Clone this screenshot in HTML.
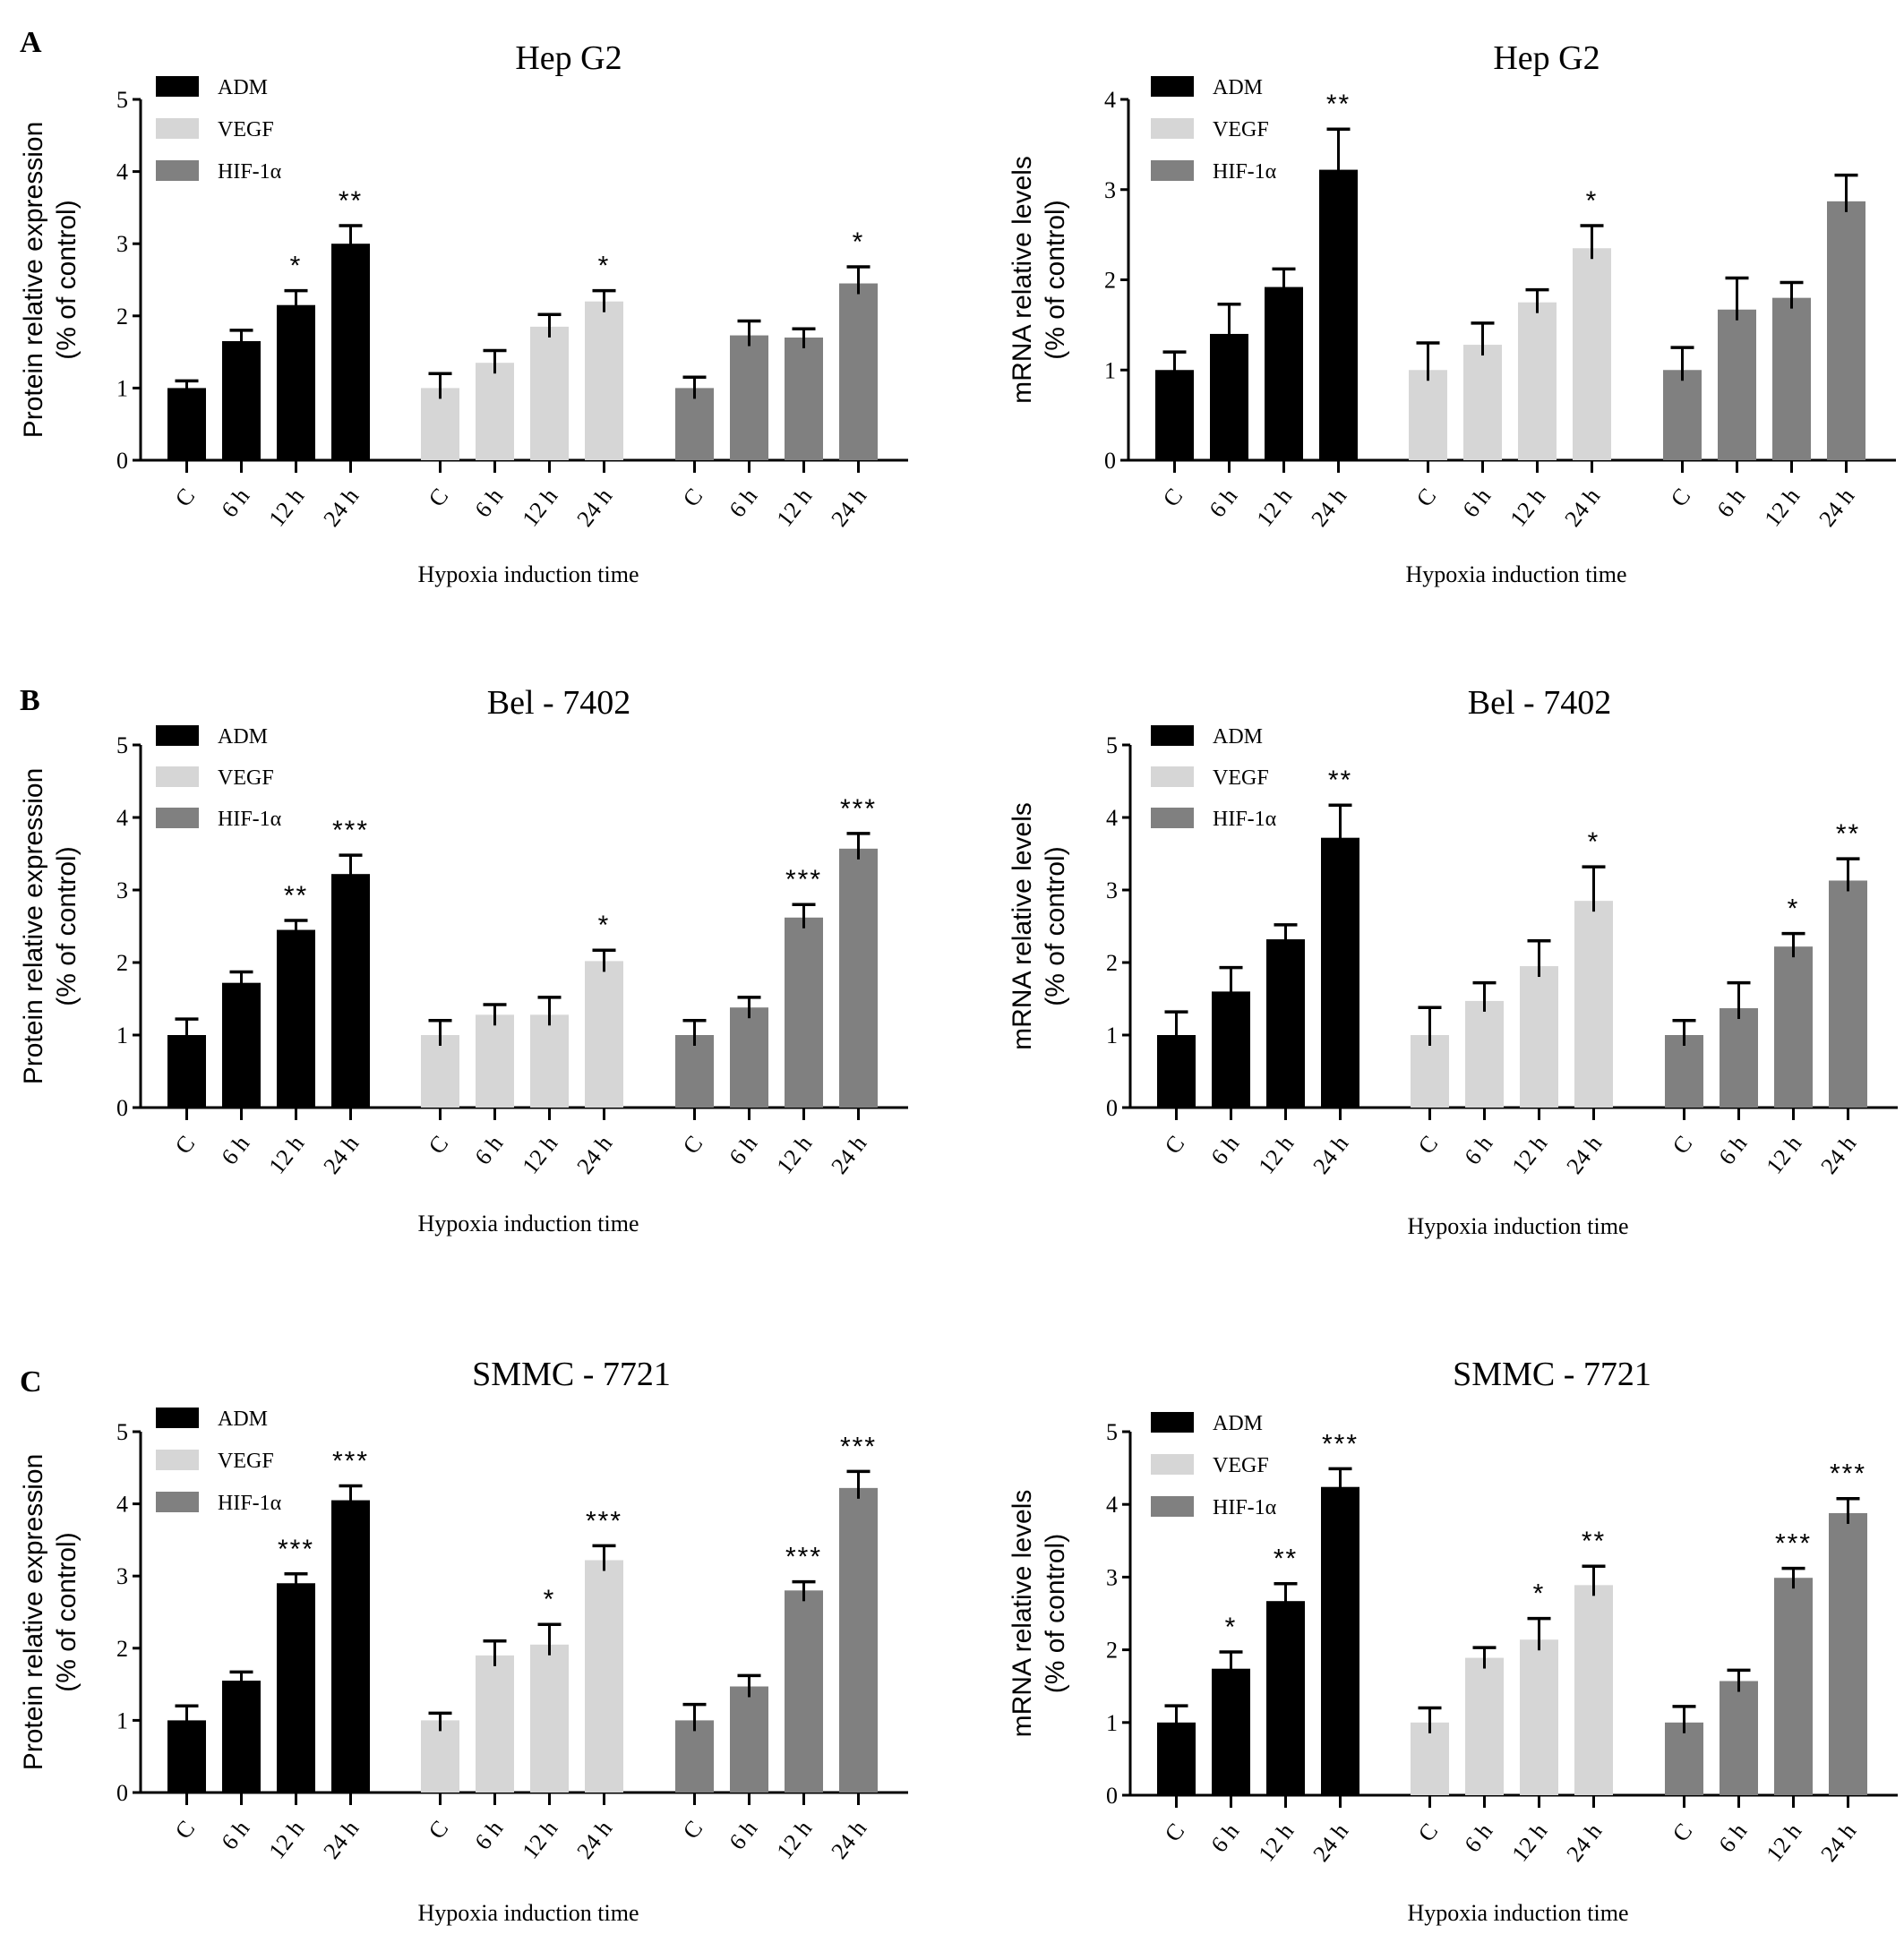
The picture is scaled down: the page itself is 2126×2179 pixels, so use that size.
<!DOCTYPE html>
<html><head><meta charset="utf-8"><style>
html,body{margin:0;padding:0;background:#fff;}
svg{display:block;}
text{font-family:"Liberation Serif",serif;fill:#000;}
</style></head><body>
<svg id="fig" width="2126" height="2179" viewBox="0 0 2126 2179" xmlns="http://www.w3.org/2000/svg"></svg>
<script>
const categories = ["C","6 h","12 h","24 h"];
const seriesNames = ["ADM","VEGF","HIF-1\u03b1"];
// values per panel: [ADM, VEGF, HIF]
const aLeftVals = [[1.0,1.65,2.15,3.0],[1.0,1.35,1.85,2.2],[1.0,1.73,1.7,2.45]];
const aLeftErr  = [[1.1,1.8,2.35,3.25],[1.2,1.52,2.02,2.35],[1.15,1.93,1.82,2.68]];
const aLeftSig  = [["","","*","**"],["","","","*"],["","","","*"]];
const aRightVals = [[1,1.4,1.92,3.22],[1,1.28,1.75,2.35],[1,1.67,1.8,2.87]];
const aRightErr  = [[1.2,1.73,2.12,3.67],[1.3,1.52,1.89,2.6],[1.25,2.02,1.97,3.16]];
const aRightSig  = [["","","","**"],["","","","*"],["","","",""]];
const bLeftVals = [[1,1.72,2.45,3.22],[1,1.28,1.28,2.02],[1,1.38,2.62,3.57]];
const bLeftErr  = [[1.22,1.87,2.58,3.48],[1.2,1.42,1.52,2.17],[1.2,1.52,2.8,3.78]];
const bLeftSig  = [["","","**","***"],["","","","*"],["","","***","***"]];
const bRightVals = [[1,1.6,2.32,3.72],[1,1.47,1.95,2.85],[1,1.37,2.22,3.13]];
const bRightErr  = [[1.32,1.93,2.52,4.17],[1.38,1.72,2.3,3.32],[1.2,1.72,2.4,3.43]];
const bRightSig  = [["","","","**"],["","","","*"],["","","*","**"]];
const cLeftVals = [[1,1.55,2.9,4.05],[1,1.9,2.05,3.22],[1,1.47,2.8,4.22]];
const cLeftErr  = [[1.2,1.67,3.03,4.25],[1.1,2.1,2.33,3.42],[1.22,1.62,2.92,4.45]];
const cLeftSig  = [["","","***","***"],["","","*","***"],["","","***","***"]];
const cRightVals = [[1,1.74,2.67,4.24],[1,1.89,2.14,2.89],[1,1.57,2.99,3.88]];
const cRightErr  = [[1.23,1.97,2.91,4.49],[1.2,2.03,2.43,3.15],[1.22,1.72,3.12,4.08]];
const cRightSig  = [["","*","**","***"],["","","*","**"],["","","***","***"]];
const yTicksFive = [0,1,2,3,4,5];
const yTicksFour = [0,1,2,3,4];

const colors = ["#000000","#d6d6d6","#808080"];
const svg = document.getElementById('fig');
const NS = "http://www.w3.org/2000/svg";
function mk(tag, attrs, parent){const e=document.createElementNS(NS,tag);for(const k in attrs)e.setAttribute(k,attrs[k]);(parent||svg).appendChild(e);return e;}

const panels = [
 {id:"a-left", ax:157, y0:514, yt:111, ticks:yTicksFive, vals:aLeftVals, err:aLeftErr, sig:aLeftSig, title:"Hep G2", tx:635, ty:77, ytitle:["Protein relative expression","(% of control)"], ytx:35, leg:[97,144,191], lx:174, xt:641},
 {id:"a-right", ax:1260, y0:514, yt:111, ticks:yTicksFour, vals:aRightVals, err:aRightErr, sig:aRightSig, title:"Hep G2", tx:1727, ty:77, ytitle:["mRNA relative levels","(% of control)"], ytx:1139, leg:[97,144,191], lx:1285, xt:641},
 {id:"b-left", ax:157, y0:1237, yt:832, ticks:yTicksFive, vals:bLeftVals, err:bLeftErr, sig:bLeftSig, title:"Bel - 7402", tx:624, ty:797, ytitle:["Protein relative expression","(% of control)"], ytx:35, leg:[822,868,914], lx:174, xt:1366},
 {id:"b-right", ax:1262, y0:1237, yt:832, ticks:yTicksFive, vals:bRightVals, err:bRightErr, sig:bRightSig, title:"Bel - 7402", tx:1719, ty:797, ytitle:["mRNA relative levels","(% of control)"], ytx:1139, leg:[822,868,914], lx:1285, xt:1369},
 {id:"c-left", ax:157, y0:2002, yt:1599, ticks:yTicksFive, vals:cLeftVals, err:cLeftErr, sig:cLeftSig, title:"SMMC - 7721", tx:638, ty:1547, ytitle:["Protein relative expression","(% of control)"], ytx:35, leg:[1584,1631,1678], lx:174, xt:2136},
 {id:"c-right", ax:1262, y0:2005, yt:1599, ticks:yTicksFive, vals:cRightVals, err:cRightErr, sig:cRightSig, title:"SMMC - 7721", tx:1733, ty:1547, ytitle:["mRNA relative levels","(% of control)"], ytx:1139, leg:[1589,1636,1683], lx:1285, xt:2136}
];

const groupOff=[30,313,597], barW=43, barStep=61, axLen=857;

panels.forEach(p=>{
  const g=mk('g',{});
  
  
  const maxV=p.ticks[p.ticks.length-1];
  const ys=v=>p.y0-(v/maxV)*(p.y0-p.yt);
  const t=mk('text',{x:p.tx,y:p.ty,'font-size':38,'text-anchor':'middle'},g);t.textContent=p.title;
  
  
  const yt=mk('text',{transform:`translate(${p.ytx+12},${(p.y0+p.yt)/2}) rotate(-90)`,'font-size':30,'text-anchor':'middle',style:'font-family:"Liberation Sans",sans-serif'},g);
  
  
  const s1=mk('tspan',{x:0,dy:0},yt);s1.textContent=p.ytitle[0];
  const s2=mk('tspan',{x:0,dy:37},yt);s2.textContent=p.ytitle[1];
  const ya=mk('line',{x1:p.ax,y1:p.yt,x2:p.ax,y2:p.y0,stroke:'#000','stroke-width':3},g);
  
  
  const xa=mk('line',{x1:p.ax-8,y1:p.y0,x2:p.ax+axLen,y2:p.y0,stroke:'#000','stroke-width':3},g);
  
  
  p.ticks.forEach(v=>{
    mk('line',{x1:p.ax-9,y1:ys(v),x2:p.ax,y2:ys(v),stroke:'#000','stroke-width':3},g);
    const tl=mk('text',{x:p.ax-14,y:ys(v)+9,'font-size':26,'text-anchor':'end'},g);tl.textContent=v;
    
    
  });
  p.vals.forEach((ser,si)=>{
    ser.forEach((v,ci)=>{
      const x=p.ax+groupOff[si]+ci*barStep;
      const cx=x+barW/2;
      const b=mk('rect',{x:x,y:ys(v),width:barW,height:p.y0-ys(v),fill:colors[si]},g);
      
      
      const e=p.err[si][ci];
      mk('line',{x1:cx,y1:ys(v)+12,x2:cx,y2:ys(e),stroke:'#000','stroke-width':3},g);
      mk('line',{x1:cx-13,y1:ys(e),x2:cx+13,y2:ys(e),stroke:'#000','stroke-width':3.5},g);
      const sg=p.sig[si][ci];
      if(sg){const st=mk('text',{x:cx,y:ys(e)-18,'font-size':30,'text-anchor':'middle',style:'font-family:"Liberation Sans",sans-serif;letter-spacing:2px'},g);st.textContent=sg;
        
        }
      mk('line',{x1:cx,y1:p.y0,x2:cx,y2:p.y0+14,stroke:'#000','stroke-width':3},g);
      const xl=mk('text',{transform:`translate(${cx+10},${p.y0+40}) rotate(-52)`,'font-size':26,'text-anchor':'end'},g);
      xl.textContent=categories[ci];
      
      
    });
  });
  const xt=mk('text',{x:p.ax+433,y:p.xt+9,'font-size':26,'text-anchor':'middle'},g);xt.textContent="Hypoxia induction time";
  
  
  seriesNames.forEach((n,i)=>{
    const sw=mk('rect',{x:p.lx,y:p.leg[i]-12,width:48,height:23,fill:colors[i]},g);
    
    
    const lt=mk('text',{x:p.lx+69,y:p.leg[i]+8,'font-size':24},g);lt.textContent=n;
    
    
  });
});
[["A",46],["B",781],["C",1542]].forEach(([l,y])=>{
  const t=mk('text',{x:22,y:y+12,'font-size':34,'font-weight':'bold'});t.textContent=l;
  
  
});
</script>
</body></html>
